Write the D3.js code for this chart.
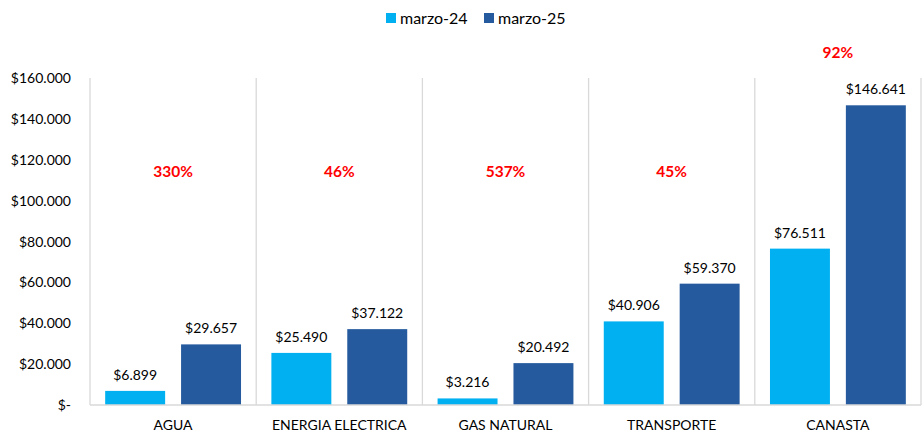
<!DOCTYPE html>
<html>
<head>
<meta charset="utf-8">
<script src="https://cdn.jsdelivr.net/npm/d3@7"></script>
<style>
    body { margin: 0; background: #fff; }
    text { font-family: Lato, "Open Sans", sans-serif; fill: #000; }
</style>
</head>
<body>
<div id="chart"></div>
<script>
    // chart data
    const categories = ["AGUA", "ENERGIA ELECTRICA", "GAS NATURAL", "TRANSPORTE", "CANASTA"];
    const series = ["marzo-24", "marzo-25"];
    const values24 = [6899, 25490, 3216, 40906, 76511];
    const values25 = [29657, 37122, 20492, 59370, 146641];
    const changes = ["330%", "46%", "537%", "45%", "92%"];
    const yTicks = [0, 20000, 40000, 60000, 80000, 100000, 120000, 140000, 160000];

    const colors = ["#00b0f0", "#255a9e"];
    const width = 922, height = 434;
    const margin = { top: 78, right: 1, bottom: 29, left: 90 };

    let fmt = (v) => v === 0 ? "$-" : "$" + d3.format(",")(v).replace(/,/g, ".");

    let svg = d3.select("#chart").append("svg")
        .attr("width", width).attr("height", height);

    let x = d3.scaleBand()
        .domain(categories)
        .range([margin.left, width - margin.right])
        .paddingInner(0)
        .paddingOuter(0);

    let xInner = d3.scaleBand()
        .domain(series)
        .range([0, x.bandwidth()])
        .paddingInner(0.21)
        .paddingOuter(0.2);

    let y = d3.scaleLinear()
        .domain([0, 160000])
        .range([height - margin.bottom, margin.top]);

    // vertical separators between categories
    let edges = categories.map(c => x(c)).concat([x(categories[categories.length - 1]) + x.bandwidth()]);
    svg.append("g").selectAll("line")
        .data(edges)
        .enter().append("line")
        .attr("x1", d => d).attr("x2", d => d)
        .attr("y1", y(160000)).attr("y2", y(0))
        .attr("stroke", "#d9d9d9").attr("stroke-width", 1.3);

    // y axis labels
    svg.append("g").selectAll("text")
        .data(yTicks)
        .enter().append("text")
        .attr("x", 71)
        .attr("y", d => y(d) + 5)
        .attr("text-anchor", "end")
        .style("font-size", "14px")
        .text(fmt);

    // bars
    let rows = categories.map((c, i) => ({ cat: c, vals: [values24[i], values25[i]], pct: changes[i] }));

    let groups = svg.append("g").selectAll("g")
        .data(rows)
        .enter().append("g")
        .attr("transform", d => `translate(${x(d.cat)},0)`);

    groups.selectAll("rect")
        .data(d => d.vals.map((v, j) => ({ s: series[j], v: v, j: j })))
        .enter().append("rect")
        .attr("x", d => xInner(d.s))
        .attr("width", xInner.bandwidth())
        .attr("y", d => y(d.v))
        .attr("height", d => y(0) - y(d.v))
        .attr("fill", d => colors[d.j]);

    groups.selectAll("text.val")
        .data(d => d.vals.map((v, j) => ({ s: series[j], v: v })))
        .enter().append("text")
        .attr("class", "val")
        .attr("x", d => xInner(d.s) + xInner.bandwidth() / 2)
        .attr("y", d => y(d.v) - 11)
        .attr("text-anchor", "middle")
        .style("font-size", "14px")
        .text(d => fmt(d.v));

    // percent change labels
    groups.append("text")
        .attr("x", x.bandwidth() / 2)
        .attr("y", d => Math.min(y(114000), y(d.vals[1]) - 52) + 5)
        .attr("text-anchor", "middle")
        .style("font-size", "15.5px")
        .style("font-weight", "bold")
        .style("fill", "#ff0000")
        .text(d => d.pct);

    // baseline
    svg.append("line")
        .attr("x1", margin.left).attr("x2", width - margin.right)
        .attr("y1", y(0)).attr("y2", y(0))
        .attr("stroke", "#d9d9d9").attr("stroke-width", 1.3);

    // category labels
    svg.append("g").selectAll("text")
        .data(categories)
        .enter().append("text")
        .attr("x", d => x(d) + x.bandwidth() / 2)
        .attr("y", 430)
        .attr("text-anchor", "middle")
        .style("font-size", "14px")
        .text(d => d);

    // legend
    let legend = svg.append("g").selectAll("g")
        .data(series)
        .enter().append("g")
        .attr("transform", (d, i) => `translate(${386 + i * 98},13)`);

    legend.append("rect")
        .attr("width", 10).attr("height", 10)
        .attr("fill", (d, i) => colors[i]);

    legend.append("text")
        .attr("x", 14).attr("y", 10.5)
        .style("font-size", "16px")
        .text(d => d);
</script>
</body>
</html>
